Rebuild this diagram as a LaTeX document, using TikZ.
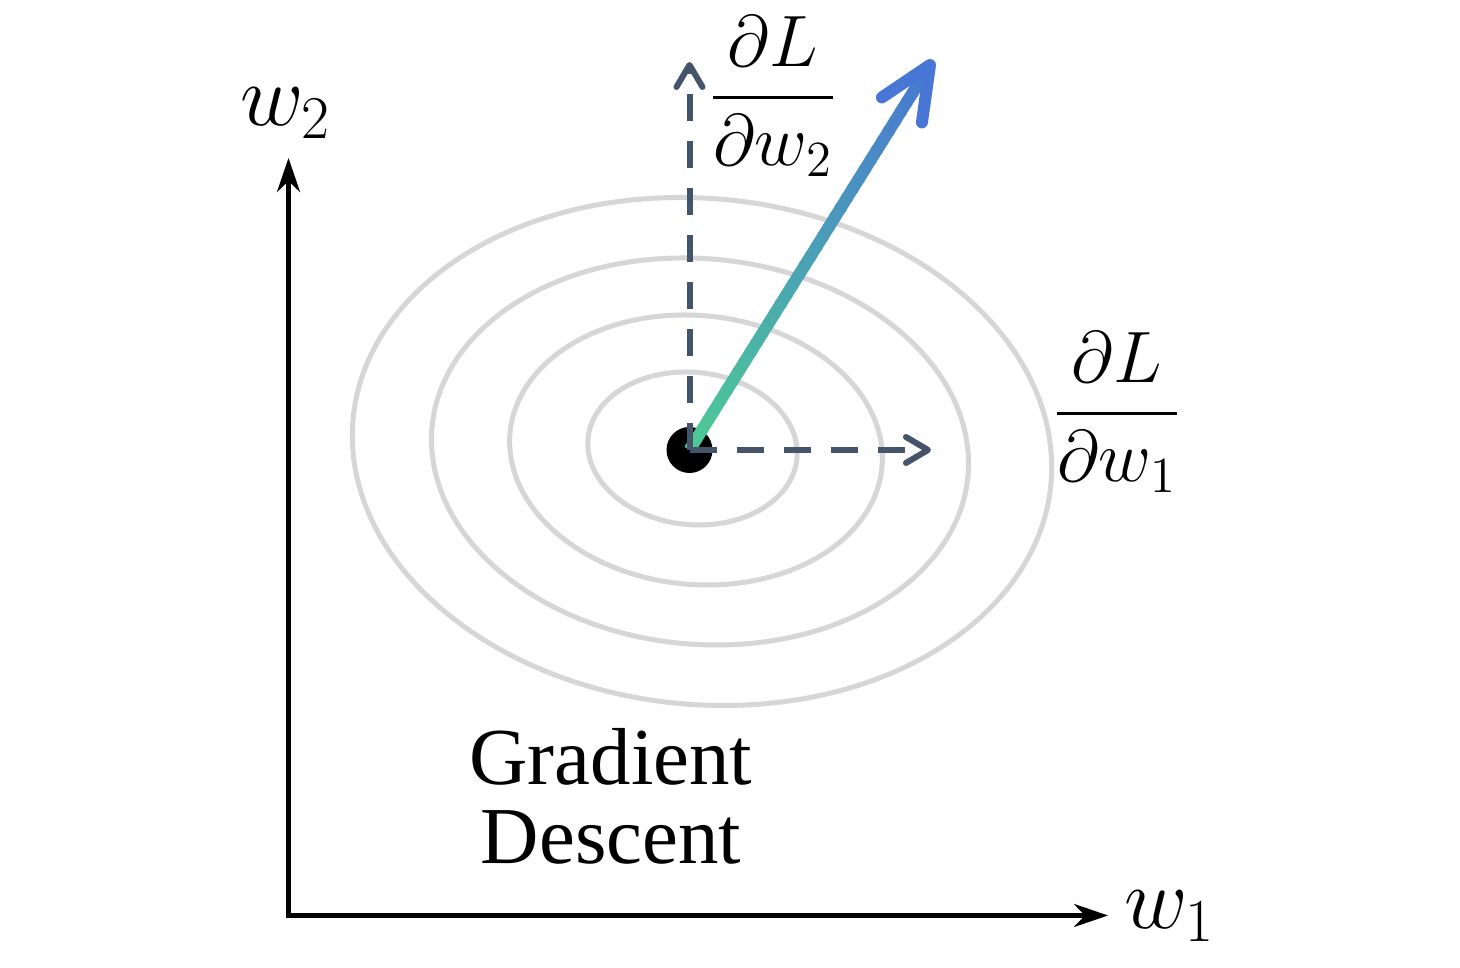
\documentclass[tikz,border=0pt]{standalone}
\usepackage{amsmath}
\usepackage{fontspec}
\newfontfamily\labelfont{Liberation Serif}
\usepackage{tikz}
\usetikzlibrary{arrows.meta,calc}
\definecolor{DashGray}{RGB}{68,84,106}
\definecolor{ContourGray}{RGB}{214,214,214}
\definecolor{GradGreen}{RGB}{76,202,150}
\definecolor{GradBlue}{RGB}{72,118,212}

\begin{document}
\begin{tikzpicture}[
 axis/.style={line width=0.05cm, {Stealth[length=0.34cm, width=0.23cm]}-{Stealth[length=0.34cm, width=0.23cm]}},
 contour/.style={draw=ContourGray, line width=0.05cm},
 partial/.style={draw=DashGray, line width=0.06cm, dash pattern=on 0.27cm off 0.2cm, -{Straight Barb[round, length=0.22cm, width=0.26cm]}},
 grad/.style={line width=0.12cm},
 gradtip/.style={draw=GradBlue, line width=0.12cm, line cap=round, line join=round},
 mathlbl/.style={inner sep=0pt, font=\fontsize{24}{28}\selectfont},
 fraclbl/.style={inner sep=0pt, font=\fontsize{21}{25}\selectfont},
 textlbl/.style={inner sep=0pt, align=center, font=\labelfont\fontsize{23}{22.5}\selectfont}
]
\useasboundingbox[fill=white] (0,0) rectangle (14.6,9.68);

\draw[contour, shift={(7.02,5.165)}, xslant=-0.085] (0,0) ellipse [x radius=3.49, y radius=2.54];
\draw[contour, shift={(7.00,5.165)}, xslant=-0.085] (0,0) ellipse [x radius=2.68, y radius=1.935];
\draw[contour, shift={(6.96,5.18)}, xslant=-0.085] (0,0) ellipse [x radius=1.86, y radius=1.35];
\draw[contour, shift={(6.925,5.195)}, xslant=-0.085] (0,0) ellipse [x radius=1.045, y radius=0.765];

\coordinate (orig) at (2.885,0.525);
\coordinate (ytip) at (2.885,8.10);
\coordinate (xtip) at (11.08,0.525);
\draw[axis] (ytip) -- (orig) -- (xtip);

\node[mathlbl] (w2) at (2.86,8.55) {$w_2$};
\node[mathlbl] (w1) at (11.70,0.52) {$w_1$};

\node[circle, fill=black, minimum size=0.46cm, inner sep=0pt] (dot) at (6.895,5.18) {};
\coordinate (vtip) at (6.895,9.06);
\coordinate (htip) at (9.31,5.18);
\coordinate (gtip) at (9.30,9.03);

\foreach \i in {0,...,39} {
 \pgfmathsetmacro{\ta}{\i/40}
 \pgfmathsetmacro{\tb}{min(0.985,(\i+1.3)/40)}
 \pgfmathtruncatemacro{\p}{100-2.5*\i}
 \draw[grad, GradGreen!\p!GradBlue] ($(dot)!\ta!(gtip)$) -- ($(dot)!\tb!(gtip)$);
}
\draw[gradtip] ($(gtip)!0.58cm!24:(dot)$) -- (gtip) -- ($(gtip)!0.58cm!-24:(dot)$);

\draw[partial] (dot.center) -- (vtip);
\draw[partial] (dot.center) -- (htip);

\node[fraclbl] (dw2) at (7.73,8.72) {$\dfrac{\partial L}{\partial w_2}$};
\node[fraclbl] (dw1) at (11.17,5.56) {$\dfrac{\partial L}{\partial w_1}$};
\node[textlbl] (gd) at (6.11,1.72) {Gradient\\Descent};
\end{tikzpicture}
\end{document}
